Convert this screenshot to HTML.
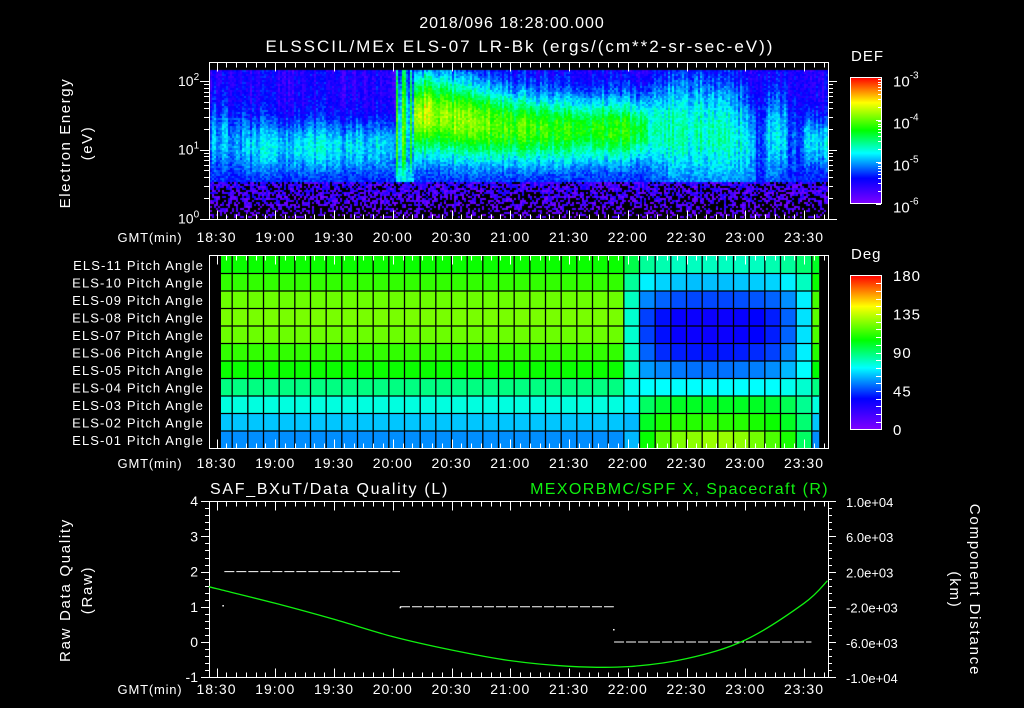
<!DOCTYPE html>
<html><head><meta charset="utf-8"><style>
html,body{margin:0;padding:0;background:#000;width:1024px;height:708px;overflow:hidden}
#wrap{position:relative;width:1024px;height:708px}
canvas,svg{position:absolute;left:0;top:0}
text{font-family:"Liberation Sans",sans-serif;fill:#fff}
</style></head><body>
<div id="wrap">
<canvas id="spec" width="1024" height="708"></canvas>
<svg id="svg" width="1024" height="708"></svg>
</div>
<script>
// ---- spectrogram data (minutes after 18:00, log10 eV, log10 DEF) ----
const specT = [26,35,45,55,65,75,85,95,105,115,121,124,127,130,135,140,150,160,170,180,190,200,210,220,230,240,250,260,270,280,290,295,300,305,310,315,320,325,330,335];
const specCenter = [1.15,1.1,1.05,1.05,1.05,1.05,1.05,1.05,1.05,1.05,1.3,1.4,1.3,1.5,1.55,1.5,1.45,1.4,1.35,1.33,1.32,1.3,1.3,1.3,1.3,1.3,1.3,1.28,1.28,1.25,1.2,1.15,1.1,1.1,1.2,1.2,1.1,1.1,1.15,1.1];
const specPeak = [-5.0,-5.1,-4.9,-4.9,-4.85,-4.85,-4.85,-4.85,-4.9,-4.9,-4.5,-4.4,-4.6,-3.8,-3.7,-3.9,-3.9,-4.0,-4.1,-4.1,-4.15,-4.2,-4.2,-4.2,-4.2,-4.3,-4.6,-4.65,-4.65,-4.6,-4.7,-4.75,-4.85,-5.3,-4.8,-4.9,-5.2,-5.3,-4.85,-4.9];
const specWidth = [0.35,0.3,0.28,0.28,0.28,0.28,0.28,0.28,0.28,0.28,0.8,0.8,0.7,0.43,0.43,0.43,0.42,0.4,0.38,0.36,0.36,0.36,0.35,0.35,0.35,0.35,0.45,0.55,0.55,0.55,0.55,0.55,0.5,0.4,0.5,0.45,0.4,0.35,0.3,0.25];
// ---- pitch angle data (deg), rows top ELS-11 .. bottom ELS-01 ----
const pitchLabels = ["ELS-11","ELS-10","ELS-09","ELS-08","ELS-07","ELS-06","ELS-05","ELS-04","ELS-03","ELS-02","ELS-01"];
const pitchLeft = [106,112,121,123,121,112,106,88,76,64,56];
const pitchRight = [
 [95,85,82,80,80,80,80,80,80,82,85,90,100],
 [85,70,66,64,63,63,63,64,65,66,70,80,106],
 [80,55,50,47,46,46,46,47,48,50,56,70,115],
 [78,45,38,34,33,33,33,34,36,40,50,68,118],
 [78,45,38,34,33,33,33,34,36,40,50,68,116],
 [80,50,42,40,39,39,39,40,42,45,55,70,110],
 [80,58,55,53,52,52,52,53,54,56,62,72,104],
 [75,72,72,72,72,72,72,72,72,72,74,78,88],
 [70,92,98,100,100,100,100,100,100,98,94,86,76],
 [62,100,108,110,110,112,110,110,108,106,100,90,64],
 [62,105,118,124,126,128,128,126,122,116,108,92,56]];
// ---- bottom panel data ----
const qualSegs = [[34,2,123.7],[123.7,1,232.9],[233,0,333.8]]; // [start min, value, end min]
const qualDots = [[33,1.05],[123.5,1.0],[232.5,0.37]];
const scTime = [26,30,60,90,120,150,180,210,240,270,300,330,342];
const scX = [375,150,-1510,-3330,-5300,-6820,-8030,-8670,-8710,-7800,-5680,-1510,1060];
const timeTicks = ["18:30","19:00","19:30","20:00","20:30","21:00","21:30","22:00","22:30","23:00","23:30"];
const qualTicks = [4,3,2,1,0,-1];
const distTicks = ["1.0e+04","6.0e+03","2.0e+03","-2.0e+03","-6.0e+03","-1.0e+04"];
const degTicks = ["180","135","90","45","0"];

// ---- axes ----
const X = m => 216.5 + (m-30)*117.5/60;
const X0=209, X1=828;
const yE = l => 218.5 - l*68.8;
const yQ = v => 642 - v*35.2;
const yD = v => 590 - v/10000*88;

const stops=[[0,[127,0,255]],[0.2,[0,0,255]],[0.4,[0,255,255]],[0.58,[0,255,0]],[0.8,[255,255,0]],[1,[255,0,0]]];
function cmap(u){u=Math.max(0,Math.min(1,u));for(let i=1;i<stops.length;i++){if(u<=stops[i][0]){const a=stops[i-1],b=stops[i],f=(u-a[0])/(b[0]-a[0]);return a[1].map((c,k)=>Math.round(c+(b[1][k]-c)*f));}}return stops[stops.length-1][1];}
function hash(i,j){let h=(i*374761393+j*668265263)^0x5bd1e995;h=(h^(h>>>13))*1274126177;h=h^(h>>>16);return ((h>>>0)%10000)/10000;}

// spectrogram canvas
const ctx=document.getElementById('spec').getContext('2d');
for(let px=210;px<828;px+=2){
  const t=30+(px-216.5)*60/117.5;
  let i=0;while(i<specT.length-1&&t>=specT[i+1])i++;
  const c=specCenter[i],p=specPeak[i],w=specWidth[i];
  const cn=(hash(px,7)-0.5)*(i>=10&&i<=12?0.9:0.35);
  for(let py=70;py<218;py+=2){
    const l=(218.5-py)/68.8, n=hash(px,py);
    let v;
    if(l<0.55){v=-5.75+(n-0.5)*0.9-(0.55-l)*0.8;}
    else{const bg=l>c?-5.55:-5.42;v=bg+(p-bg)*Math.exp(-0.5*((l-c)/w)**2)+(n-0.5)*0.3+cn*Math.min(1,(l-0.55)*3);}
    if(v<-6)continue;
    const col=cmap((v+6)/3);
    ctx.fillStyle=`rgb(${col[0]},${col[1]},${col[2]})`;
    ctx.fillRect(px,py,2,2);
  }
}

// SVG
const svg=document.getElementById('svg');const NS='http://www.w3.org/2000/svg';
function el(tag,attrs,parent){const e=document.createElementNS(NS,tag);for(const k in attrs)e.setAttribute(k,attrs[k]);(parent||svg).appendChild(e);return e;}
function txt(s,x,y,opt,name){const e=el('text',Object.assign({x:x,y:y,'font-size':14},opt||{}));e.textContent=s;return e;}
function line(x1,y1,x2,y2,c,w){return el('line',{x1,y1,x2,y2,stroke:c||'#fff','stroke-width':w||1});}

const defs=el('defs',{});const lg=el('linearGradient',{id:'cb',x1:0,y1:1,x2:0,y2:0},defs);
stops.forEach(s=>el('stop',{offset:s[0],'stop-color':`rgb(${s[1].join(',')})`},lg));

// titles
txt("2018/096 18:28:00.000",512,28,{'text-anchor':'middle','font-size':16,'letter-spacing':1},'main-title');
txt("ELSSCIL/MEx ELS-07 LR-Bk  (ergs/(cm**2-sr-sec-eV))",520,52,{'text-anchor':'middle','font-size':17,'letter-spacing':2,'xml:space':'preserve'},'spectrogram-title');

function timeAxis(yTop,yBot,ylab,name){
  const g=el('g',{});
  for(let m=30;m<=340;m+=5){const x=Math.round(X(m))+0.5;if(x<X0||x>X1)continue;const L=(m%30===0)?9:5;
    el('line',{x1:x,y1:yTop,x2:x,y2:yTop+L,stroke:'#fff'},g);el('line',{x1:x,y1:yBot,x2:x,y2:yBot-L,stroke:'#fff'},g);}
  txt("GMT(min)",150,ylab,{'text-anchor':'middle','font-size':13,'letter-spacing':0.8},'time-axis-title');
  timeTicks.forEach((s,k)=>txt(s,X(30+30*k),ylab,{'text-anchor':'middle','font-size':14,'letter-spacing':1},'time-tick-label'));
}
// --- top panel ---
el('rect',{x:X0+0.5,y:62.5,width:X1-X0,height:157,fill:'none',stroke:'#fff'});
timeAxis(62.5,219.5,242,'top-time-axis');
for(let d=0;d<=2;d++){for(let k=1;k<=9;k++){const l=d+Math.log10(k);const y=Math.round(yE(l))+0.5;if(y<62)continue;const L=k===1?9:5;line(X0-L,y,X0,y);line(X1,y,X1+L,y);}}
[["2",yE(2)],["1",yE(1)],["0",yE(0)]].forEach(a=>{const t=txt("10",178,a[1]+5,{'font-size':14},'energy-tick-label');const s=el('tspan',{dy:-6,'font-size':10},t);s.textContent=a[0];});
txt("Electron Energy",70,143,{'text-anchor':'middle','font-size':15,'letter-spacing':1.6,transform:'rotate(-90 70 143)'},'energy-axis-title');
txt("(eV)",92,143,{'text-anchor':'middle','font-size':15,'letter-spacing':1.6,transform:'rotate(-90 92 143)'},'energy-axis-unit');
el('rect',{x:850.5,y:77.5,width:31,height:126,fill:'url(#cb)',stroke:'#fff'});
txt("DEF",851,61,{'font-size':15,'letter-spacing':1},'def-colorbar-title');
["-3","-4","-5","-6"].forEach((s,k)=>{const y=77.5+k*42;const t=txt("10",893,y+9,{'font-size':15},'def-tick-label');const sp=el('tspan',{dy:-8,'font-size':10},t);sp.textContent=s;
 for(let j=1;j<=9;j++){if(k===3)break;const yy=Math.round(y+42-42*Math.log10(j))+0.5;line(881-(j===1?5:3),yy,881,yy);} });

// --- middle panel ---
const colEdges=[32.3];for(let m=38;m<=334;m+=8)colEdges.push(m);colEdges.push(337.6);
const rTop=256,rH=(448.5-256)/11;
const hm=el('g',{});
pitchLabels.forEach((lab,r)=>{
  for(let c=0;c<colEdges.length-1;c++){
    const v=c<26?pitchLeft[r]:pitchRight[r][c-26];const col=cmap(v/180);
    const x1=X(colEdges[c]),x2=X(colEdges[c+1]);
    const rc=el('rect',{x:x1,y:rTop+r*rH,width:x2-x1+0.3,height:rH+0.3,fill:`rgb(${col.join(',')})`},hm);
    
    
  }
  txt(lab+" Pitch Angle",204,rTop+r*rH+rH/2+5,{'text-anchor':'end','font-size':13,'letter-spacing':1.1},'pitch-row-label');
});
for(let c=1;c<colEdges.length-1;c++){const x=X(colEdges[c]);line(x,rTop,x,448.5,'#000',1.3);}
for(let r=1;r<11;r++){const y=rTop+r*rH;line(X(32.3),y,X(337.6),y,'#000',1.3);}
el('rect',{x:X0+0.5,y:255.5,width:X1-X0,height:193,fill:'none',stroke:'#fff'});
timeAxis(255.5,448.5,468,'middle-time-axis');
el('rect',{x:850.5,y:275.5,width:31,height:154,fill:'url(#cb)',stroke:'#fff'});
txt("Deg",851,259,{'font-size':15,'letter-spacing':1},'deg-colorbar-title');
degTicks.forEach((s,k)=>txt(s,893,275+k*38.5+6,{'font-size':15,'letter-spacing':1},'deg-tick-label'));
for(let k=1;k<20;k++){const y=Math.round(275.5+k*154/20)+0.5;line(876,y,881,y);}

// --- bottom panel ---
txt("SAF_BXuT/Data Quality (L)",210,494,{'font-size':16,'letter-spacing':1.7},'quality-title');
txt("MEXORBMC/SPF X, Spacecraft (R)",829,494,{'font-size':16,'text-anchor':'end','letter-spacing':1.4,style:'fill:#10f010'},'spacecraft-title');
el('rect',{x:X0+0.5,y:501.5,width:X1-X0,height:176,fill:'none',stroke:'#fff'});
timeAxis(501.5,677.5,694,'bottom-time-axis');
for(let v=-1;v<=4.001;v+=0.2){const y=Math.round(yQ(v))+0.5;const maj=Math.abs(v-Math.round(v))<0.01;line(X0-(maj?8:4),y,X0,y);line(X1,y,X1+(maj?8:4),y);}
qualTicks.forEach(v=>txt(String(v),198,yQ(v)+5,{'text-anchor':'end','font-size':14},'quality-tick-label'));
distTicks.forEach((s,k)=>txt(s,846,502+k*35.2+5,{'font-size':13},'distance-tick-label'));
txt("Raw Data Quality",70,590,{'text-anchor':'middle','font-size':15,'letter-spacing':1.7,transform:'rotate(-90 70 590)'},'quality-axis-title');
txt("(Raw)",92,590,{'text-anchor':'middle','font-size':15,'letter-spacing':1.7,transform:'rotate(-90 92 590)'},'quality-axis-unit');
txt("Component Distance",970,590,{'text-anchor':'middle','font-size':15,'letter-spacing':1.8,transform:'rotate(90 970 590)'},'distance-axis-title');
txt("(km)",950,590,{'text-anchor':'middle','font-size':15,'letter-spacing':1.8,transform:'rotate(90 950 590)'},'distance-axis-unit');
qualSegs.forEach(s=>{const p=el('line',{x1:X(s[0]),y1:yQ(s[1]),x2:X(s[2]),y2:yQ(s[1]),stroke:'#fff','stroke-width':1,'stroke-dasharray':'10 2'});
 });
qualDots.forEach(d=>{const c=el('rect',{x:X(d[0]),y:yQ(d[1]),width:1.5,height:1.5,fill:'#fff'});});
const pts=scTime.map((t,i)=>[Math.max(X0,X(t)),yD(scX[i])]);
let dstr='M'+pts[0].join(',');
for(let i=0;i<pts.length-1;i++){const p0=pts[Math.max(0,i-1)],p1=pts[i],p2=pts[i+1],p3=pts[Math.min(pts.length-1,i+2)];
 dstr+=` C${p1[0]+(p2[0]-p0[0])/6},${p1[1]+(p2[1]-p0[1])/6} ${p2[0]-(p3[0]-p1[0])/6},${p2[1]-(p3[1]-p1[1])/6} ${p2[0]},${p2[1]}`;}
const sc=el('path',{d:dstr,fill:'none',stroke:'#10f010','stroke-width':1.3});


</script>
</body></html>
